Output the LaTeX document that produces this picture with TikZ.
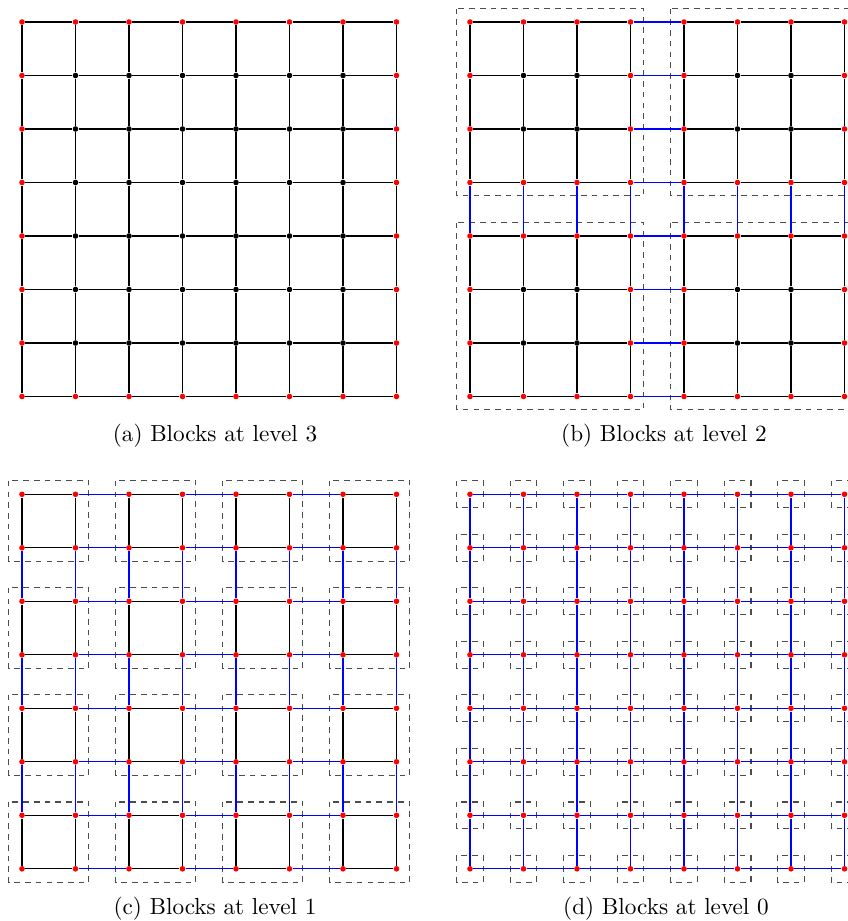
\documentclass[tikz,border=0pt]{standalone}
\usepackage{fontspec}

\tikzset{
  dotnode/.style={circle, inner sep=0pt, minimum size=2.6pt},
  gridedge/.style={line width=0.62pt},
  blockbox/.style={draw=black!70, line width=0.55pt, dash pattern=on 2.6pt off 2.4pt},
  capnode/.style={anchor=base, inner sep=0pt, font=\fontsize{10.8pt}{13pt}\selectfont},
}

% #1 panel name, #2 block size, #3/#4 position of vertex (0,0)
\newcommand{\blockpanel}[4]{%
  % ── block outlines ────────────────────────────────────────────
  \ifnum#2<8
    \pgfmathtruncatemacro{\nblk}{8/#2-1}%
    \foreach \bx in {0,...,\nblk}
      \foreach \by in {0,...,\nblk} {
        \draw[blockbox]
          ({#3+53.5*\bx*#2-13.4},{#4+53.5*\by*#2-13.4}) rectangle
          ({#3+53.5*(\bx*#2+#2-1)+13.4},{#4+53.5*(\by*#2+#2-1)+13.4});
      }
  \fi
  % ── vertices (red on a block rim) ─────────────────────────────
  \foreach \i in {0,...,7}
    \foreach \j in {0,...,7} {
      \pgfmathtruncatemacro{\onrim}{or(or(mod(\i,#2)==0,mod(\i,#2)==#2-1),or(mod(\j,#2)==0,mod(\j,#2)==#2-1))}
      \ifnum\onrim=1 \def\dotcol{red}\else\def\dotcol{black}\fi
      \node[dotnode, fill=\dotcol] (#1-\i-\j) at ({#3+53.5*\i},{#4+53.5*\j}) {};
    }
  % ── edges (blue between blocks) ───────────────────────────────
  \foreach \i in {0,...,7}
    \foreach \j in {0,...,6} {
      \pgfmathtruncatemacro{\nj}{\j+1}
      \pgfmathtruncatemacro{\cut}{mod(\nj,#2)==0}
      \ifnum\cut=1 \def\edgecol{blue}\else\def\edgecol{black}\fi
      \draw[gridedge, draw=\edgecol] (#1-\i-\j) -- (#1-\i-\nj);
      \draw[gridedge, draw=\edgecol] (#1-\j-\i) -- (#1-\nj-\i);
    }
}

\begin{document}
\begin{tikzpicture}[x=0.4651pt, y=-0.4651pt]

  \useasboundingbox (0,0) rectangle (848,921);

  % ── the four levels ──────────────────────────────────────────
  \blockpanel{a}{8}{22}{22}
  \blockpanel{b}{4}{470}{22}
  \blockpanel{c}{2}{22}{494.3}
  \blockpanel{d}{1}{470}{494.3}

  % ── captions ─────────────────────────────────────────────────
  \node[capnode] (capa) at (215,441.7) {(a) Blocks at level 3};
  \node[capnode] (capb) at (664,441.7) {(b) Blocks at level 2};
  \node[capnode] (capc) at (215,914.3) {(c) Blocks at level 1};
  \node[capnode] (capd) at (666,914.3) {(d) Blocks at level 0};

\end{tikzpicture}
\end{document}
